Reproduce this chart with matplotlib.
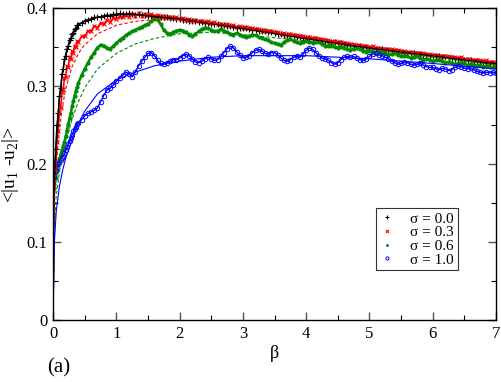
import numpy as np
import matplotlib
matplotlib.use('Agg')
import matplotlib.pyplot as plt

plt.rcParams['font.family'] = 'serif'
plt.rcParams['font.serif'] = ['Liberation Serif', 'DejaVu Serif']
plt.rcParams['mathtext.fontset'] = 'custom'
plt.rcParams['mathtext.rm'] = 'Liberation Serif'

# sampling grid in beta (finer where the curves rise steeply)
beta = np.round(np.concatenate([np.arange(0.0, 0.41, 0.02), np.arange(0.45, 7.001, 0.05)]), 3)

# sigma = 0.0
s00 = [0.150, 0.192, 0.219, 0.250, 0.266, 0.287, 0.298, 0.315, 0.322, 0.335,
       0.339, 0.348, 0.352, 0.359, 0.361, 0.367, 0.368, 0.373, 0.374, 0.378, 0.378,
       0.381, 0.384, 0.385, 0.386, 0.388, 0.388, 0.389, 0.390, 0.391, 0.390, 0.392,
       0.391, 0.393, 0.392, 0.392, 0.393, 0.392, 0.391, 0.392, 0.391, 0.391, 0.390,
       0.390, 0.389, 0.389, 0.388, 0.388, 0.388, 0.387, 0.387, 0.386, 0.386,
       0.385, 0.385, 0.384, 0.384, 0.383, 0.382, 0.382, 0.381, 0.381, 0.380,
       0.380, 0.379, 0.378, 0.378, 0.377, 0.377, 0.376, 0.375, 0.375, 0.374,
       0.374, 0.373, 0.372, 0.372, 0.371, 0.371, 0.370, 0.369, 0.369, 0.368,
       0.367, 0.367, 0.366, 0.365, 0.365, 0.364, 0.363, 0.363, 0.362, 0.361,
       0.361, 0.360, 0.360, 0.359, 0.358, 0.358, 0.357, 0.356, 0.356, 0.355,
       0.355, 0.354, 0.353, 0.353, 0.352, 0.351, 0.351, 0.350, 0.350, 0.349,
       0.349, 0.348, 0.347, 0.347, 0.346, 0.346, 0.345, 0.345, 0.344, 0.344,
       0.343, 0.343, 0.342, 0.342, 0.341, 0.341, 0.340, 0.340, 0.339, 0.339,
       0.338, 0.338, 0.337, 0.337, 0.336, 0.336, 0.335, 0.335, 0.334, 0.334,
       0.333, 0.333, 0.332, 0.332, 0.331, 0.331, 0.330, 0.330, 0.329, 0.329]

# sigma = 0.3
s03 = [0.135, 0.172, 0.196, 0.228, 0.243, 0.266, 0.273, 0.292, 0.296, 0.311,
       0.312, 0.326, 0.325, 0.337, 0.335, 0.345, 0.343, 0.352, 0.350, 0.358, 0.356,
       0.364, 0.364, 0.371, 0.370, 0.377, 0.375, 0.381, 0.379, 0.385, 0.382, 0.387,
       0.386, 0.389, 0.388, 0.391, 0.389, 0.392, 0.390, 0.393, 0.390, 0.392, 0.391,
       0.392, 0.390, 0.391, 0.389, 0.390, 0.388, 0.389, 0.387, 0.388, 0.386,
       0.387, 0.385, 0.386, 0.384, 0.385, 0.383, 0.384, 0.382, 0.383, 0.381,
       0.382, 0.379, 0.380, 0.378, 0.380, 0.377, 0.378, 0.376, 0.377, 0.375,
       0.376, 0.374, 0.374, 0.373, 0.373, 0.371, 0.372, 0.370, 0.371, 0.369,
       0.369, 0.367, 0.368, 0.366, 0.367, 0.365, 0.365, 0.364, 0.364, 0.362,
       0.363, 0.361, 0.362, 0.360, 0.360, 0.359, 0.359, 0.357, 0.358, 0.356,
       0.357, 0.355, 0.355, 0.354, 0.354, 0.352, 0.353, 0.351, 0.352, 0.350,
       0.351, 0.349, 0.349, 0.348, 0.348, 0.347, 0.347, 0.346, 0.346, 0.345,
       0.345, 0.344, 0.344, 0.343, 0.343, 0.342, 0.342, 0.341, 0.341, 0.340,
       0.340, 0.339, 0.339, 0.338, 0.338, 0.337, 0.337, 0.336, 0.337, 0.335,
       0.335, 0.334, 0.334, 0.333, 0.333, 0.332, 0.333, 0.331, 0.331, 0.330]

# sigma = 0.6
s06 = [0.150, 0.170, 0.182, 0.192, 0.200, 0.207, 0.213, 0.218, 0.223, 0.229,
       0.236, 0.244, 0.252, 0.259, 0.266, 0.274, 0.281, 0.288, 0.294, 0.299, 0.304,
       0.314, 0.322, 0.330, 0.337, 0.343, 0.349, 0.353, 0.352, 0.349, 0.348, 0.351,
       0.355, 0.359, 0.362, 0.365, 0.368, 0.370, 0.372, 0.374, 0.376, 0.378, 0.380,
       0.383, 0.386, 0.385, 0.379, 0.372, 0.368, 0.367, 0.369, 0.371, 0.372,
       0.371, 0.369, 0.366, 0.364, 0.367, 0.370, 0.373, 0.375, 0.374, 0.372,
       0.370, 0.371, 0.373, 0.371, 0.369, 0.367, 0.366, 0.368, 0.366, 0.364,
       0.363, 0.364, 0.366, 0.365, 0.363, 0.361, 0.360, 0.359, 0.356, 0.355,
       0.354, 0.353, 0.356, 0.359, 0.360, 0.358, 0.356, 0.355, 0.357, 0.358,
       0.356, 0.355, 0.356, 0.357, 0.354, 0.352, 0.351, 0.352, 0.350, 0.349,
       0.350, 0.349, 0.347, 0.346, 0.348, 0.349, 0.347, 0.345, 0.344, 0.345,
       0.344, 0.342, 0.343, 0.344, 0.342, 0.340, 0.341, 0.342, 0.340, 0.338,
       0.339, 0.338, 0.336, 0.337, 0.338, 0.336, 0.334, 0.335, 0.334, 0.332,
       0.333, 0.334, 0.332, 0.330, 0.331, 0.330, 0.328, 0.329, 0.330, 0.329,
       0.327, 0.328, 0.327, 0.326, 0.327, 0.325, 0.326, 0.325, 0.324, 0.325]

# sigma = 1.0
s10 = [0.178, 0.185, 0.191, 0.196, 0.200, 0.203, 0.206, 0.208, 0.211, 0.214,
       0.218, 0.222, 0.226, 0.230, 0.234, 0.238, 0.242, 0.245, 0.248, 0.251, 0.253,
       0.257, 0.262, 0.265, 0.267, 0.269, 0.272, 0.280, 0.288, 0.295, 0.297, 0.301,
       0.306, 0.311, 0.314, 0.318, 0.316, 0.312, 0.318, 0.326, 0.332, 0.337, 0.342,
       0.343, 0.339, 0.333, 0.329, 0.328, 0.330, 0.332, 0.334, 0.334, 0.336,
       0.339, 0.341, 0.339, 0.335, 0.331, 0.330, 0.332, 0.335, 0.337, 0.335,
       0.333, 0.334, 0.338, 0.343, 0.348, 0.351, 0.349, 0.344, 0.340, 0.336,
       0.337, 0.339, 0.343, 0.346, 0.347, 0.345, 0.342, 0.341, 0.343, 0.343,
       0.340, 0.336, 0.333, 0.332, 0.334, 0.337, 0.338, 0.337, 0.341, 0.346,
       0.349, 0.347, 0.343, 0.339, 0.336, 0.335, 0.333, 0.330, 0.328, 0.330,
       0.334, 0.337, 0.338, 0.337, 0.338, 0.336, 0.334, 0.333, 0.335, 0.338,
       0.341, 0.342, 0.340, 0.339, 0.337, 0.335, 0.332, 0.330, 0.328, 0.329,
       0.331, 0.330, 0.328, 0.327, 0.328, 0.329, 0.327, 0.325, 0.324, 0.324,
       0.322, 0.321, 0.323, 0.322, 0.320, 0.321, 0.324, 0.326, 0.325, 0.323,
       0.322, 0.323, 0.321, 0.319, 0.318, 0.317, 0.318, 0.317, 0.318, 0.317]

# fitted curves
fit_beta = [0.002, 0.02, 0.05, 0.1, 0.15, 0.2, 0.3, 0.4, 0.5, 0.7, 1.0, 1.3, 1.6,
            2.0, 2.5, 3.0, 4.0, 5.0, 6.0, 7.0]
fit00 = [0.02, 0.17, 0.225, 0.285, 0.318, 0.341, 0.366, 0.379, 0.383, 0.388, 0.392,
         0.392, 0.389, 0.386, 0.380, 0.374, 0.361, 0.349, 0.339, 0.329]
fit03 = [0.02, 0.15, 0.20, 0.245, 0.275, 0.297, 0.325, 0.342, 0.353, 0.367, 0.378,
         0.383, 0.385, 0.385, 0.381, 0.375, 0.362, 0.350, 0.340, 0.330]
fit06 = [0.02, 0.12, 0.16, 0.19, 0.21, 0.228, 0.258, 0.28, 0.298, 0.322, 0.342,
         0.354, 0.361, 0.367, 0.369, 0.366, 0.358, 0.347, 0.337, 0.327]
fit10 = [0.02, 0.10, 0.14, 0.172, 0.192, 0.208, 0.232, 0.252, 0.268, 0.290, 0.308,
         0.318, 0.326, 0.332, 0.337, 0.339, 0.339, 0.335, 0.329, 0.322]

labels = ['σ = 0.0', 'σ = 0.3', 'σ = 0.6', 'σ = 1.0']
green = '#008c00'

fig = plt.figure(figsize=(5.01, 3.82), dpi=100)
ax = fig.add_axes([0.106, 0.161, 0.884, 0.818])

# thin trace under the markers so the dense data reads as a band
for ys, c, w in [(s00, 'black', 1.0), (s03, 'red', 1.2), (s06, green, 1.8), (s10, 'blue', 1.0)]:
    ax.plot(beta, ys, '-', color=c, lw=w)

ax.plot(beta, s00, ls='none', marker='+', ms=4, mew=0.8, color='black', label=labels[0])
ax.plot(beta, s03, ls='none', marker='x', ms=3, mew=0.8, color='red', label=labels[1])
ax.plot(beta, s06, ls='none', marker='o', ms=3.0, mew=0, color=green, label=labels[2])
ax.plot(beta, s10, ls='none', marker='o', ms=3.2, mew=0.7, mfc='none', color='blue', label=labels[3])

ax.plot(fit_beta, fit00, '-', color='black', lw=1.0)
ax.plot(fit_beta, fit03, '--', color='red', lw=0.8, dashes=(3, 2))
ax.plot(fit_beta, fit06, '--', color=green, lw=0.8, dashes=(3, 2))
ax.plot(fit_beta, fit10, '-', color='blue', lw=0.8)

ax.set_xlim(0, 7)
ax.set_ylim(0, 0.4)
ax.set_xticks(range(0, 8))
ax.set_xticks(np.arange(0.5, 7, 1.0), minor=True)
ax.set_yticks([0, 0.1, 0.2, 0.3, 0.4])
ax.set_yticklabels(['0', '0.1', '0.2', '0.3', '0.4'])
ax.set_yticks([0.05, 0.15, 0.25, 0.35], minor=True)
ax.tick_params(which='both', direction='in', top=True, right=True, labelsize=12, pad=4)
ax.tick_params(which='major', length=6, width=1, color='#555555')
ax.tick_params(which='minor', length=3.5, width=0.8)
for s in ax.spines.values():
    s.set_linewidth(1.0)

ax.set_xlabel('β', fontsize=13, labelpad=2)
ax.set_ylabel('<|u$_1$ -u$_2$|>', fontsize=14, labelpad=4)

leg = ax.legend(loc='upper left', bbox_to_anchor=(0.729, 0.36), fontsize=11,
                frameon=True, fancybox=False, handlelength=1.0, handletextpad=1.0,
                borderpad=0.25, labelspacing=0.0, markerscale=0.7, borderaxespad=0)
leg.get_frame().set_edgecolor('black')
leg.get_frame().set_linewidth(0.8)

fig.text(0.094, 0.037, '(a)', fontsize=15, ha='left', va='center')

fig.savefig('out.png', dpi=100)
